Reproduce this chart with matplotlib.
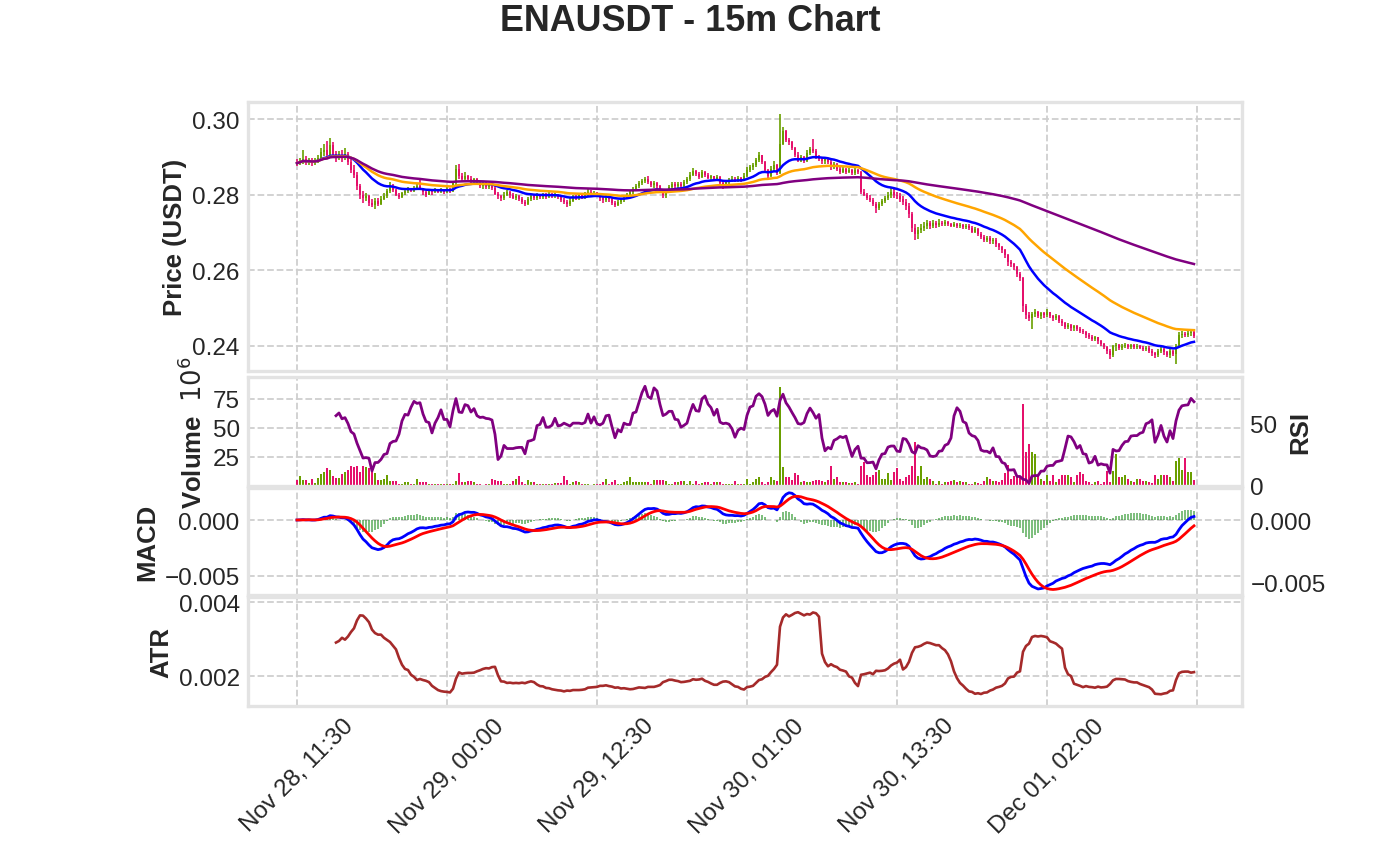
import matplotlib
matplotlib.use("Agg")
import matplotlib.pyplot as plt
import numpy as np
import pandas as pd

plt.rcParams["font.family"] = ["Liberation Sans", "DejaVu Sans"]

SYMBOL = "ENAUSDT"
START = "2024-11-28 11:30"
OPEN0 = 0.2887

CLOSE = [
    0.2883, 0.2888, 0.2895, 0.2886, 0.2890, 0.2884, 0.2889, 0.2897, 0.2912, 0.2918,
    0.2905, 0.2930, 0.2908, 0.2899, 0.2906, 0.2898, 0.2908, 0.2885, 0.2866, 0.2852,
    0.2822, 0.2798, 0.2790, 0.2797, 0.2778, 0.2772, 0.2784, 0.2776, 0.2789, 0.2797,
    0.2809, 0.2822, 0.2812, 0.2800, 0.2794, 0.2803, 0.2810, 0.2815, 0.2810, 0.2816,
    0.2822, 0.2815, 0.2806, 0.2800, 0.2810, 0.2806, 0.2812, 0.2808, 0.2813, 0.2808,
    0.2815, 0.2810, 0.2830, 0.2868, 0.2848, 0.2840, 0.2850, 0.2842, 0.2836, 0.2840,
    0.2830, 0.2822, 0.2828, 0.2820, 0.2826, 0.2818, 0.2802, 0.2795, 0.2790, 0.2800,
    0.2806, 0.2798, 0.2792, 0.2797, 0.2788, 0.2780, 0.2776, 0.2788, 0.2795, 0.2790,
    0.2798, 0.2793, 0.2799, 0.2794, 0.2800, 0.2795, 0.2799, 0.2793, 0.2785, 0.2780,
    0.2774, 0.2784, 0.2795, 0.2790, 0.2798, 0.2792, 0.2800, 0.2808, 0.2800, 0.2805,
    0.2798, 0.2790, 0.2785, 0.2792, 0.2787, 0.2778, 0.2773, 0.2780, 0.2785, 0.2792,
    0.2798, 0.2806, 0.2815, 0.2822, 0.2830, 0.2836, 0.2840, 0.2832, 0.2825, 0.2830,
    0.2822, 0.2810, 0.2798, 0.2808, 0.2820, 0.2828, 0.2822, 0.2828, 0.2823, 0.2832,
    0.2840, 0.2852, 0.2862, 0.2855, 0.2846, 0.2860, 0.2852, 0.2845, 0.2848, 0.2842,
    0.2846, 0.2830, 0.2822, 0.2832, 0.2838, 0.2842, 0.2838, 0.2843, 0.2838, 0.2850,
    0.2865, 0.2872, 0.2878, 0.2892, 0.2905, 0.2885, 0.2865, 0.2850, 0.2868, 0.2878,
    0.2858, 0.2935, 0.2968, 0.2945, 0.2938, 0.2922, 0.2905, 0.2890, 0.2900, 0.2888,
    0.2910, 0.2920, 0.2915, 0.2900, 0.2895, 0.2888, 0.2893, 0.2885, 0.2872, 0.2880,
    0.2868, 0.2860, 0.2868, 0.2860, 0.2866, 0.2858, 0.2865, 0.2860, 0.2808, 0.2800,
    0.2792, 0.2785, 0.2776, 0.2765, 0.2776, 0.2783, 0.2792, 0.2800, 0.2808, 0.2800,
    0.2795, 0.2788, 0.2780, 0.2770, 0.2748, 0.2712, 0.2695, 0.2705, 0.2712, 0.2718,
    0.2724, 0.2718, 0.2725, 0.2720, 0.2726, 0.2721, 0.2727, 0.2722, 0.2718, 0.2723,
    0.2716, 0.2720, 0.2714, 0.2718, 0.2712, 0.2702, 0.2708, 0.2696, 0.2688, 0.2680,
    0.2686, 0.2676, 0.2680, 0.2668, 0.2660, 0.2652, 0.2640, 0.2622, 0.2615, 0.2608,
    0.2590, 0.2578, 0.2505, 0.2480, 0.2472, 0.2485, 0.2490, 0.2478, 0.2486, 0.2480,
    0.2488, 0.2478, 0.2472, 0.2478, 0.2465, 0.2460, 0.2450, 0.2456, 0.2446, 0.2452,
    0.2444, 0.2440, 0.2436, 0.2428, 0.2424, 0.2418, 0.2422, 0.2412, 0.2405, 0.2396,
    0.2385, 0.2375, 0.2398, 0.2402, 0.2395, 0.2400, 0.2403, 0.2396, 0.2401, 0.2396,
    0.2400, 0.2395, 0.2390, 0.2395, 0.2386, 0.2380, 0.2375, 0.2386, 0.2392, 0.2382,
    0.2376, 0.2385, 0.2378, 0.2400, 0.2428, 0.2432, 0.2428, 0.2434, 0.2436, 0.2425,
]

HIGH = [
    0.2893, 0.2896, 0.2919, 0.2901, 0.2898, 0.2896, 0.2897, 0.2906, 0.2923, 0.2933,
    0.2941, 0.2950, 0.2938, 0.2915, 0.2915, 0.2918, 0.2923, 0.2913, 0.2893, 0.2878,
    0.2861, 0.2829, 0.2809, 0.2803, 0.2800, 0.2788, 0.2790, 0.2792, 0.2796, 0.2805,
    0.2815, 0.2833, 0.2828, 0.2816, 0.2805, 0.2808, 0.2816, 0.2820, 0.2818, 0.2822,
    0.2828, 0.2838, 0.2818, 0.2810, 0.2816, 0.2814, 0.2818, 0.2816, 0.2818, 0.2816,
    0.2820, 0.2818, 0.2834, 0.2878, 0.2882, 0.2856, 0.2860, 0.2853, 0.2848, 0.2845,
    0.2843, 0.2835, 0.2834, 0.2832, 0.2830, 0.2830, 0.2825, 0.2808, 0.2800, 0.2806,
    0.2812, 0.2810, 0.2803, 0.2802, 0.2800, 0.2794, 0.2786, 0.2793, 0.2800, 0.2800,
    0.2804, 0.2802, 0.2805, 0.2803, 0.2806, 0.2804, 0.2804, 0.2802, 0.2797, 0.2790,
    0.2785, 0.2790, 0.2800, 0.2800, 0.2804, 0.2802, 0.2806, 0.2816, 0.2812, 0.2810,
    0.2808, 0.2802, 0.2795, 0.2798, 0.2796, 0.2790, 0.2784, 0.2786, 0.2790, 0.2796,
    0.2804, 0.2812, 0.2820, 0.2828, 0.2836, 0.2842, 0.2846, 0.2850, 0.2836, 0.2836,
    0.2834, 0.2825, 0.2815, 0.2812, 0.2826, 0.2834, 0.2832, 0.2834, 0.2832, 0.2838,
    0.2846, 0.2860, 0.2870, 0.2866, 0.2860, 0.2866, 0.2863, 0.2856, 0.2853, 0.2850,
    0.2851, 0.2848, 0.2834, 0.2837, 0.2843, 0.2848, 0.2847, 0.2848, 0.2846, 0.2856,
    0.2872, 0.2878, 0.2884, 0.2898, 0.2912, 0.2906, 0.2888, 0.2868, 0.2875, 0.2890,
    0.2882, 0.3013, 0.2978, 0.2972, 0.2950, 0.2942, 0.2925, 0.2912, 0.2905, 0.2903,
    0.2918, 0.2926, 0.2947, 0.2920, 0.2905, 0.2900, 0.2898, 0.2896, 0.2892, 0.2885,
    0.2883, 0.2872, 0.2873, 0.2870, 0.2871, 0.2868, 0.2870, 0.2868, 0.2862, 0.2815,
    0.2805, 0.2798, 0.2790, 0.2780, 0.2780, 0.2788, 0.2797, 0.2808, 0.2818, 0.2815,
    0.2808, 0.2803, 0.2795, 0.2788, 0.2778, 0.2755, 0.2721, 0.2715, 0.2721, 0.2728,
    0.2733, 0.2731, 0.2733, 0.2731, 0.2734, 0.2729, 0.2732, 0.2730, 0.2726, 0.2728,
    0.2726, 0.2725, 0.2723, 0.2722, 0.2721, 0.2716, 0.2713, 0.2711, 0.2700, 0.2692,
    0.2691, 0.2690, 0.2685, 0.2684, 0.2672, 0.2664, 0.2656, 0.2644, 0.2628, 0.2620,
    0.2612, 0.2596, 0.2582, 0.2510, 0.2490, 0.2490, 0.2496, 0.2492, 0.2490, 0.2490,
    0.2496, 0.2490, 0.2482, 0.2483, 0.2480, 0.2470, 0.2464, 0.2460, 0.2458, 0.2456,
    0.2455, 0.2450, 0.2445, 0.2440, 0.2434, 0.2428, 0.2426, 0.2424, 0.2415, 0.2408,
    0.2400, 0.2390, 0.2402, 0.2406, 0.2405, 0.2404, 0.2407, 0.2405, 0.2405, 0.2404,
    0.2404, 0.2403, 0.2398, 0.2399, 0.2398, 0.2390, 0.2384, 0.2390, 0.2396, 0.2394,
    0.2386, 0.2390, 0.2388, 0.2405, 0.2436, 0.2438, 0.2436, 0.2438, 0.2440, 0.2438,
]

LOW = [
    0.2875, 0.2877, 0.2881, 0.2877, 0.2879, 0.2875, 0.2878, 0.2883, 0.2890, 0.2903,
    0.2897, 0.2900, 0.2897, 0.2887, 0.2891, 0.2887, 0.2892, 0.2877, 0.2857, 0.2843,
    0.2812, 0.2787, 0.2777, 0.2784, 0.2770, 0.2766, 0.2762, 0.2770, 0.2772, 0.2786,
    0.2792, 0.2805, 0.2806, 0.2795, 0.2788, 0.2792, 0.2800, 0.2805, 0.2806, 0.2808,
    0.2812, 0.2812, 0.2798, 0.2794, 0.2798, 0.2800, 0.2804, 0.2803, 0.2805, 0.2802,
    0.2805, 0.2805, 0.2808, 0.2826, 0.2842, 0.2835, 0.2838, 0.2836, 0.2830, 0.2830,
    0.2824, 0.2818, 0.2816, 0.2815, 0.2816, 0.2812, 0.2798, 0.2788, 0.2783, 0.2786,
    0.2795, 0.2792, 0.2787, 0.2786, 0.2782, 0.2775, 0.2770, 0.2772, 0.2783, 0.2785,
    0.2786, 0.2788, 0.2789, 0.2789, 0.2790, 0.2790, 0.2790, 0.2788, 0.2780, 0.2774,
    0.2766, 0.2770, 0.2780, 0.2785, 0.2786, 0.2787, 0.2788, 0.2796, 0.2795, 0.2795,
    0.2793, 0.2784, 0.2778, 0.2780, 0.2780, 0.2772, 0.2768, 0.2770, 0.2776, 0.2780,
    0.2788, 0.2794, 0.2802, 0.2810, 0.2818, 0.2825, 0.2830, 0.2828, 0.2820, 0.2818,
    0.2815, 0.2805, 0.2790, 0.2792, 0.2805, 0.2816, 0.2817, 0.2818, 0.2818, 0.2820,
    0.2828, 0.2836, 0.2848, 0.2850, 0.2840, 0.2843, 0.2846, 0.2840, 0.2838, 0.2837,
    0.2836, 0.2825, 0.2815, 0.2818, 0.2828, 0.2832, 0.2833, 0.2834, 0.2833, 0.2836,
    0.2846, 0.2860, 0.2866, 0.2874, 0.2886, 0.2880, 0.2860, 0.2845, 0.2846, 0.2862,
    0.2852, 0.2855, 0.2930, 0.2940, 0.2932, 0.2918, 0.2900, 0.2885, 0.2885, 0.2883,
    0.2885, 0.2905, 0.2910, 0.2895, 0.2888, 0.2882, 0.2882, 0.2880, 0.2866, 0.2868,
    0.2862, 0.2855, 0.2856, 0.2854, 0.2856, 0.2852, 0.2853, 0.2855, 0.2802, 0.2795,
    0.2786, 0.2779, 0.2770, 0.2750, 0.2760, 0.2770, 0.2778, 0.2785, 0.2792, 0.2792,
    0.2787, 0.2779, 0.2772, 0.2759, 0.2739, 0.2702, 0.2680, 0.2683, 0.2697, 0.2703,
    0.2709, 0.2710, 0.2711, 0.2712, 0.2713, 0.2716, 0.2717, 0.2717, 0.2713, 0.2713,
    0.2711, 0.2711, 0.2709, 0.2709, 0.2707, 0.2697, 0.2698, 0.2690, 0.2682, 0.2674,
    0.2675, 0.2670, 0.2668, 0.2662, 0.2654, 0.2646, 0.2633, 0.2612, 0.2608, 0.2600,
    0.2582, 0.2570, 0.2490, 0.2470, 0.2465, 0.2445, 0.2475, 0.2472, 0.2470, 0.2474,
    0.2476, 0.2473, 0.2466, 0.2468, 0.2460, 0.2453, 0.2444, 0.2445, 0.2440, 0.2440,
    0.2438, 0.2434, 0.2430, 0.2420, 0.2417, 0.2412, 0.2412, 0.2405, 0.2398, 0.2390,
    0.2378, 0.2365, 0.2370, 0.2385, 0.2388, 0.2389, 0.2393, 0.2391, 0.2391, 0.2390,
    0.2390, 0.2390, 0.2385, 0.2385, 0.2380, 0.2374, 0.2368, 0.2370, 0.2380, 0.2376,
    0.2370, 0.2368, 0.2372, 0.2352, 0.2396, 0.2420, 0.2422, 0.2424, 0.2426, 0.2420,
]

# volume in millions of ENA
VOLUME_M = [
    5.1, 8.5, 5.0, 5.0, 2.5, 5.7, 2.5, 6.8, 10.3, 11.5,
    15.0, 13.3, 8.5, 6.5, 7.0, 10.3, 12.0, 14.0, 16.7, 16.4,
    17.0, 12.0, 17.0, 16.4, 15.0, 13.6, 10.8, 5.0, 5.0, 5.7,
    9.4, 4.0, 4.0, 4.0, 1.5, 1.5, 3.0, 3.0, 1.5, 1.5,
    6.0, 3.4, 3.0, 3.0, 2.0, 1.5, 1.5, 2.0, 1.5, 2.0,
    1.5, 2.0, 2.0, 4.0, 10.8, 3.0, 3.0, 4.0, 4.0, 3.0,
    1.5, 1.5, 1.0, 1.5, 2.0, 6.0, 5.0, 4.0, 4.0, 1.5,
    1.5, 1.5, 4.0, 6.0, 8.5, 3.5, 2.0, 5.0, 3.0, 3.0,
    1.5, 2.0, 2.0, 1.5, 1.5, 2.0, 2.5, 2.5, 2.5, 8.5,
    5.0, 2.0, 3.5, 4.0, 3.0, 2.0, 2.0, 1.5, 1.0, 2.0,
    2.0, 2.0, 3.0, 5.7, 2.0, 3.0, 5.3, 2.0, 2.0, 3.0,
    4.0, 7.4, 3.0, 3.5, 3.0, 3.0, 3.0, 3.5, 2.0, 5.0,
    5.0, 5.0, 5.0, 4.5, 2.0, 2.0, 3.0, 3.5, 4.5, 4.5,
    2.0, 4.5, 2.0, 4.5, 2.0, 2.5, 3.0, 3.0, 2.0, 3.0,
    3.0, 3.0, 2.0, 1.5, 1.5, 2.0, 4.5, 2.0, 1.5, 2.0,
    5.8, 2.0, 3.0, 6.0, 7.4, 3.0, 2.0, 3.0, 7.4, 5.0,
    4.0, 85.0, 16.5, 7.4, 7.4, 5.0, 11.0, 9.5, 3.0, 4.0,
    3.0, 3.0, 4.5, 5.0, 5.0, 4.5, 3.0, 5.0, 17.4, 6.0,
    7.4, 3.0, 3.0, 3.0, 2.5, 2.5, 3.0, 2.0, 17.4, 20.2,
    9.0, 8.0, 9.0, 12.0, 13.5, 5.7, 5.7, 11.0, 5.0, 12.0,
    15.0, 5.7, 4.0, 7.4, 9.0, 17.0, 38.0, 8.5, 17.4, 5.7,
    7.4, 5.7, 4.0, 2.0, 4.0, 1.5, 3.0, 3.0, 4.0, 5.0,
    3.0, 4.0, 3.0, 3.5, 2.0, 1.5, 3.0, 2.5, 2.0, 4.0,
    7.4, 5.7, 4.0, 4.0, 3.0, 5.0, 11.0, 18.0, 6.0, 8.5,
    8.5, 7.4, 70.0, 28.7, 35.6, 28.7, 27.0, 8.5, 5.7, 4.0,
    9.4, 4.0, 9.0, 3.0, 5.7, 9.0, 9.0, 9.0, 7.4, 3.0,
    9.0, 12.0, 10.0, 4.0, 3.0, 2.0, 3.0, 4.0, 2.0, 3.0,
    13.0, 3.0, 13.0, 27.0, 7.4, 7.4, 9.0, 5.7, 4.0, 3.0,
    5.7, 5.7, 4.0, 4.0, 3.0, 2.5, 9.0, 5.7, 9.5, 9.0,
    9.0, 7.4, 4.0, 21.3, 23.6, 14.0, 23.6, 12.0, 12.0, 5.0,
]

UP = "#6a9f00"
DOWN = "#e5106b"
GRID = "#cfcfcf"
EDGE = "#e3e3e3"
TXT = "#262626"
TICK_FS = 17.5
LABEL_FS = 18.5


def style_axis(ax):
    ax.set_facecolor("white")
    for s in ax.spines.values():
        s.set_color(EDGE)
        s.set_linewidth(2.4)
    ax.grid(True, color=GRID, linestyle="--", linewidth=1.3)
    ax.set_axisbelow(True)
    ax.tick_params(length=0, labelsize=TICK_FS, labelcolor=TXT, pad=6)


close = pd.Series(CLOSE)
high = pd.Series(HIGH)
low = pd.Series(LOW)
opens = pd.Series([OPEN0] + CLOSE[:-1])
vol = np.array(VOLUME_M)
n = len(close)
x = np.arange(n)
times = pd.date_range(START, periods=n, freq="15min")

# indicators
ema20 = close.ewm(span=20).mean()
ema50 = close.ewm(span=50).mean()
ema200 = close.ewm(span=200).mean()
macd = close.ewm(span=12).mean() - close.ewm(span=26).mean()
signal = macd.ewm(span=9).mean()
hist = macd - signal
delta = close.diff()
gain = delta.where(delta > 0, 0.0).rolling(14).mean()
loss = (-delta.where(delta < 0, 0.0)).rolling(14).mean()
rsi = 100 - 100 / (1 + gain / loss)
prev = close.shift(1)
tr = pd.concat([high - low, (high - prev).abs(), (low - prev).abs()], axis=1).max(axis=1)
atr = tr.rolling(14).mean()

up = (close >= opens).values
cols = np.where(up, UP, DOWN)

fig = plt.figure(figsize=(13.8, 8.62), dpi=100)
L, W = 248 / 1380, 994 / 1380
ax_p = fig.add_axes([L, 1 - 372 / 862, W, 269 / 862])
ax_v = fig.add_axes([L, 1 - 486.5 / 862, W, 108.5 / 862], sharex=ax_p)
ax_m = fig.add_axes([L, 1 - 596 / 862, W, 107 / 862], sharex=ax_p)
ax_a = fig.add_axes([L, 1 - 707 / 862, W, 109 / 862], sharex=ax_p)
for ax in (ax_p, ax_v, ax_m, ax_a):
    style_axis(ax)

# price candles + EMAs
ax_p.vlines(x, low, high, colors=cols, linewidth=1.2)
body_lo = np.minimum(opens, close)
body_h = np.maximum((close - opens).abs(), 0.00004)
ax_p.bar(x, body_h, bottom=body_lo, width=0.8, color=cols, linewidth=0)
ax_p.plot(x, ema20, color="blue", lw=1.8)
ax_p.plot(x, ema50, color="orange", lw=1.8)
ax_p.plot(x, ema200, color="purple", lw=1.8)
ax_p.set_ylim(0.2333, 0.3045)
ax_p.set_yticks([0.24, 0.26, 0.28, 0.30])
ax_p.set_yticklabels(["0.24", "0.26", "0.28", "0.30"])
ax_p.set_ylabel("Price (USDT)", fontsize=LABEL_FS, fontweight="bold", color=TXT)

# volume + RSI
ax_v.bar(x, vol, width=0.85, color=cols, linewidth=0)
ax_v.set_ylim(0.3 * vol.min(), 1.1 * vol.max())
ax_v.set_yticks([25, 50, 75])
ax_v.set_ylabel("Volume  $10^{6}$", fontsize=LABEL_FS, fontweight="bold", color=TXT)
ax_r = ax_v.twinx()
ax_r.plot(x, rsi, color="purple", lw=2.0)
ax_r.set_ylim(0, 87)
ax_r.set_yticks([0, 50])
ax_r.grid(False)
ax_r.tick_params(length=0, labelsize=TICK_FS, labelcolor=TXT, pad=6)
for s in ax_r.spines.values():
    s.set_visible(False)
ax_r.set_ylabel("RSI", fontsize=LABEL_FS, fontweight="bold", color=TXT, labelpad=8)

# MACD
ax_m.bar(x, hist, width=0.7, color="green", alpha=0.5, linewidth=0)
ax_m.plot(x, macd, color="blue", lw=2.0)
ax_m.set_ylim(-0.0067, 0.00286)
ax_m.set_yticks([-0.005, 0.0])
ax_m.set_yticklabels(["\u22120.005", "0.000"])
ax_m.set_ylabel("MACD", fontsize=LABEL_FS, fontweight="bold", color=TXT)
ax_s = ax_m.twinx()
ax_s.plot(x, signal, color="red", lw=2.0)
ax_s.set_ylim(-0.0060, 0.00256)
ax_s.set_yticks([-0.005, 0.0])
ax_s.set_yticklabels(["\u22120.005", "0.000"])
ax_s.grid(False)
ax_s.tick_params(length=0, labelsize=TICK_FS, labelcolor=TXT, pad=6)
for s in ax_s.spines.values():
    s.set_visible(False)

# ATR
ax_a.plot(x, atr, color="brown", lw=1.9)
ax_a.set_ylim(0.00119, 0.00414)
ax_a.set_yticks([0.002, 0.004])
ax_a.set_yticklabels(["0.002", "0.004"])
ax_a.set_ylabel("ATR", fontsize=LABEL_FS, fontweight="bold", color=TXT)

# shared x axis: one tick every 50 bars
ticks = list(range(0, n + 1, 50))
labels = [times[t].strftime("%b %d, %H:%M") if t < n else "" for t in ticks]
ax_a.set_xlim(-16.33, 315.0)
ax_a.set_xticks(ticks)
ax_a.set_xticklabels(labels, rotation=45, ha="center")
for ax in (ax_p, ax_v, ax_m):
    plt.setp(ax.get_xticklabels(), visible=False)

fig.suptitle(f"{SYMBOL} - 15m Chart", fontsize=25.8, fontweight="bold", color=TXT, y=0.995)
fig.savefig("out.png", dpi=100)
